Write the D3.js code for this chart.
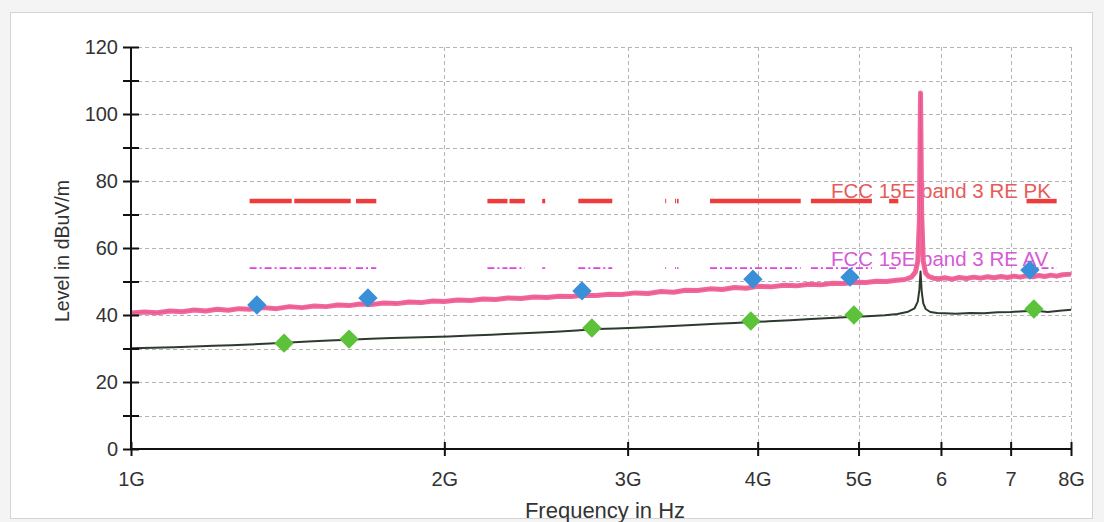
<!DOCTYPE html>
<html>
<head>
<meta charset="utf-8">
<script src="https://cdn.jsdelivr.net/npm/d3@7/dist/d3.min.js"></script>
<style>
  html, body { margin: 0; padding: 0; background: #f6f6f6; }
  svg { display: block; font-family: "Liberation Sans", Arial, sans-serif; }
</style>
</head>
<body>
<svg id="chart" width="1104" height="522"></svg>
<script>
// ---------- data (frequencies in GHz, levels in dBuV/m) ----------
const xTickValues = [1, 2, 3, 4, 5, 6, 7, 8];
const xTickLabels = ["1G", "2G", "3G", "4G", "5G", "6", "7", "8G"];
const yTickValues = [0, 10, 20, 30, 40, 50, 60, 70, 80, 90, 100, 110, 120];
const yLabelValues = [0, 20, 40, 60, 80, 100, 120];

const peakFreq  = [1.00,1.03,1.06,1.09,1.12,1.15,1.18,1.21,1.24,1.27,1.30,1.34,1.38,1.42,1.46,1.50,1.54,1.58,1.62,1.66,1.70,1.75,1.80,1.85,1.90,1.95,2.00,2.06,2.12,2.18,2.24,2.30,2.37,2.44,2.51,2.58,2.65,2.72,2.80,2.88,2.96,3.05,3.14,3.23,3.32,3.41,3.50,3.60,3.70,3.80,3.90,4.00,4.12,4.24,4.36,4.48,4.60,4.72,4.84,4.96,5.08,5.20,5.32,5.44,5.54,5.62,5.67,5.70,5.72,5.735,5.75,5.77,5.80,5.84,5.90,5.97,6.05,6.15,6.25,6.35,6.45,6.55,6.65,6.75,6.85,6.95,7.05,7.15,7.25,7.35,7.45,7.55,7.65,7.75,7.85,8.00];
const peakLevel = [40.6,40.9,40.7,41.2,41.0,41.5,41.2,41.7,41.4,41.9,41.7,42.2,41.9,42.5,42.2,42.7,42.5,43.0,42.8,43.3,43.1,43.6,43.4,43.9,43.7,44.2,44.0,44.5,44.3,44.8,44.6,45.1,44.9,45.4,45.2,45.6,45.5,45.9,45.8,46.2,46.1,46.6,46.4,47.0,46.8,47.4,47.3,47.8,47.6,48.2,48.0,48.6,48.4,48.9,48.7,49.2,49.0,49.5,49.4,49.8,49.7,50.1,50.0,50.4,50.6,51.3,52.8,56.0,68.0,106.3,70.0,56.0,52.5,51.5,51.0,50.8,51.1,50.7,51.2,50.9,51.3,51.0,51.4,51.1,51.5,51.2,51.6,51.3,51.7,51.4,51.8,51.5,51.9,51.6,52.0,52.2];

const avgFreq  = [1.00,1.05,1.10,1.15,1.20,1.25,1.30,1.36,1.42,1.48,1.55,1.62,1.70,1.78,1.86,1.94,2.02,2.12,2.22,2.32,2.44,2.56,2.68,2.80,2.92,3.05,3.20,3.35,3.50,3.65,3.80,3.95,4.10,4.30,4.50,4.70,4.90,5.10,5.30,5.45,5.58,5.66,5.70,5.72,5.735,5.75,5.77,5.80,5.86,5.95,6.05,6.20,6.40,6.60,6.80,7.00,7.20,7.40,7.60,7.80,8.00];
const avgLevel = [30.1,30.2,30.4,30.6,30.8,31.0,31.2,31.5,31.8,32.1,32.4,32.6,32.9,33.1,33.3,33.4,33.6,33.9,34.1,34.4,34.7,35.0,35.4,35.8,36.0,36.2,36.5,36.8,37.1,37.4,37.6,37.9,38.1,38.4,38.8,39.1,39.4,39.6,39.9,40.3,41.0,42.0,44.0,47.5,53.0,47.0,43.5,41.8,40.9,40.6,40.5,40.4,40.6,40.5,40.8,40.9,41.1,41.3,40.9,41.3,41.6];

const pkMarkFreq  = [1.321, 1.689, 2.712, 3.958, 4.906, 7.305];
const pkMarkLevel = [43.0, 45.1, 47.2, 50.7, 51.3, 53.4];
const avMarkFreq  = [1.403, 1.620, 2.772, 3.940, 4.949, 7.369];
const avMarkLevel = [31.6, 32.8, 36.1, 38.2, 40.0, 41.8];

const bandStart = [1.300, 1.435, 1.645, 2.200, 2.310, 2.4835, 2.690, 3.260, 3.332, 3.3458, 3.600, 4.500, 5.350, 7.250];
const bandEnd   = [1.427, 1.626, 1.7205, 2.300, 2.390, 2.500, 2.900, 3.267, 3.339, 3.358, 4.400, 5.150, 5.460, 7.750];
const pkLimit = 74;
const avLimit = 54;
const pkLimitName = "FCC 15E band 3 RE PK";
const avLimitName = "FCC 15E band 3 RE AV";

// ---------- layout ----------
const svg = d3.select("#chart");
const L = 131, R = 1071, T = 47, B = 449;
const x = d3.scaleLog().domain([1, 8]).range([L, R]);
const y = d3.scaleLinear().domain([0, 120]).range([B, T]);

// window frame
svg.append("rect").attr("x", 0).attr("y", 0).attr("width", 1104).attr("height", 522).attr("fill", "#f4f4f4");
svg.append("rect").attr("x", 10.5).attr("y", 12.5).attr("width", 1082).attr("height", 506)
  .attr("fill", "#ffffff").attr("stroke", "#d4d4d4");

// grid
const grid = svg.append("g").attr("stroke", "#b4b4b4").attr("stroke-width", 1).attr("stroke-dasharray", "4,3");
grid.selectAll("line.h").data(yTickValues.filter(d => d > 0)).join("line")
  .attr("x1", L).attr("x2", R).attr("y1", d => Math.round(y(d)) + 0.5).attr("y2", d => Math.round(y(d)) + 0.5);
grid.selectAll("line.v").data(xTickValues.filter(d => d > 1)).join("line")
  .attr("y1", T).attr("y2", B).attr("x1", d => Math.round(x(d)) + 0.5).attr("x2", d => Math.round(x(d)) + 0.5);

// limit lines
const bands = bandStart.map((s, i) => [s, bandEnd[i]]);
svg.append("g").selectAll("line").data(bands).join("line")
  .attr("x1", d => x(d[0])).attr("x2", d => x(d[1]))
  .attr("y1", y(pkLimit)).attr("y2", y(pkLimit))
  .attr("stroke", "#ee3c3c").attr("stroke-width", 4.5);
svg.append("g").selectAll("line").data(bands).join("line")
  .attr("x1", d => x(d[0])).attr("x2", d => x(d[1]))
  .attr("y1", y(avLimit)).attr("y2", y(avLimit))
  .attr("stroke", "#e040e0").attr("stroke-width", 1.6).attr("stroke-dasharray", "7,3,2,3");

// limit names
svg.append("text").attr("x", 831).attr("y", y(pkLimit) - 3).attr("font-size", 20.5)
  .attr("fill", "#e85a5a").text(pkLimitName);
svg.append("text").attr("x", 831).attr("y", y(avLimit) - 2).attr("font-size", 20.5)
  .attr("fill", "#d65ad6").text(avLimitName);

// traces
const line = d3.line().x(d => x(d[0])).y(d => y(d[1]));
svg.append("path").datum(peakFreq.map((f, i) => [f, peakLevel[i]]))
  .attr("d", line).attr("fill", "none").attr("stroke", "#f0679a").attr("stroke-width", 5).attr("stroke-linejoin", "round");
svg.append("path").datum(peakFreq.map((f, i) => [f, peakLevel[i]]))
  .attr("d", line).attr("fill", "none").attr("stroke", "#e8508a").attr("stroke-width", 1).attr("opacity", 0.7);
svg.append("path").datum(avgFreq.map((f, i) => [f, avgLevel[i]]))
  .attr("d", line).attr("fill", "none").attr("stroke", "#2e3a2e").attr("stroke-width", 2).attr("stroke-linejoin", "round");

// markers
const diamond = d3.symbol().type(d3.symbolDiamond2).size(240);
svg.append("g").selectAll("path").data(pkMarkFreq.map((f, i) => [f, pkMarkLevel[i]])).join("path")
  .attr("d", diamond).attr("transform", d => `translate(${x(d[0])},${y(d[1])})`)
  .attr("fill", "#3a90d8");
svg.append("g").selectAll("path").data(avMarkFreq.map((f, i) => [f, avMarkLevel[i]])).join("path")
  .attr("d", diamond).attr("transform", d => `translate(${x(d[0])},${y(d[1])})`)
  .attr("fill", "#5cc23a");

// axes
const fmtY = d => (yLabelValues.includes(d) ? String(d) : "");
const axL = svg.append("g").attr("transform", `translate(${L},0)`)
  .call(d3.axisLeft(y).tickValues(yTickValues).tickFormat(fmtY).tickSize(8).tickPadding(5));
const axLi = svg.append("g").attr("transform", `translate(${L},0)`)
  .call(d3.axisRight(y).tickValues(yTickValues).tickFormat("").tickSize(8));
const axB = svg.append("g").attr("transform", `translate(0,${B})`)
  .call(d3.axisBottom(x).tickValues(xTickValues).tickFormat((d, i) => xTickLabels[i]).tickSize(7).tickPadding(16));
const axBi = svg.append("g").attr("transform", `translate(0,${B})`)
  .call(d3.axisTop(x).tickValues(xTickValues).tickFormat("").tickSize(7));
[axL, axLi, axB, axBi].forEach(g => {
  g.selectAll(".domain").attr("stroke", "#111").attr("stroke-width", 2);
  g.selectAll(".tick line").attr("stroke", "#111").attr("stroke-width", 2);
  g.selectAll(".tick text").attr("font-size", 20).attr("fill", "#333").attr("font-family", "Liberation Sans, Arial, sans-serif");
});
axL.select(".domain").attr("d", `M0,${B}V${T}`);
axLi.select(".domain").remove();
axBi.select(".domain").remove();
axB.select(".domain").attr("d", `M${L},0H${R}`);

// axis titles
svg.append("text").attr("x", 605).attr("y", 518).attr("text-anchor", "middle")
  .attr("font-size", 22).attr("fill", "#333").text("Frequency in Hz");
svg.append("text").attr("transform", "translate(69,251) rotate(-90)").attr("text-anchor", "middle")
  .attr("font-size", 19.5).attr("fill", "#333").text("Level in dBuV/m");
</script>
</body>
</html>
